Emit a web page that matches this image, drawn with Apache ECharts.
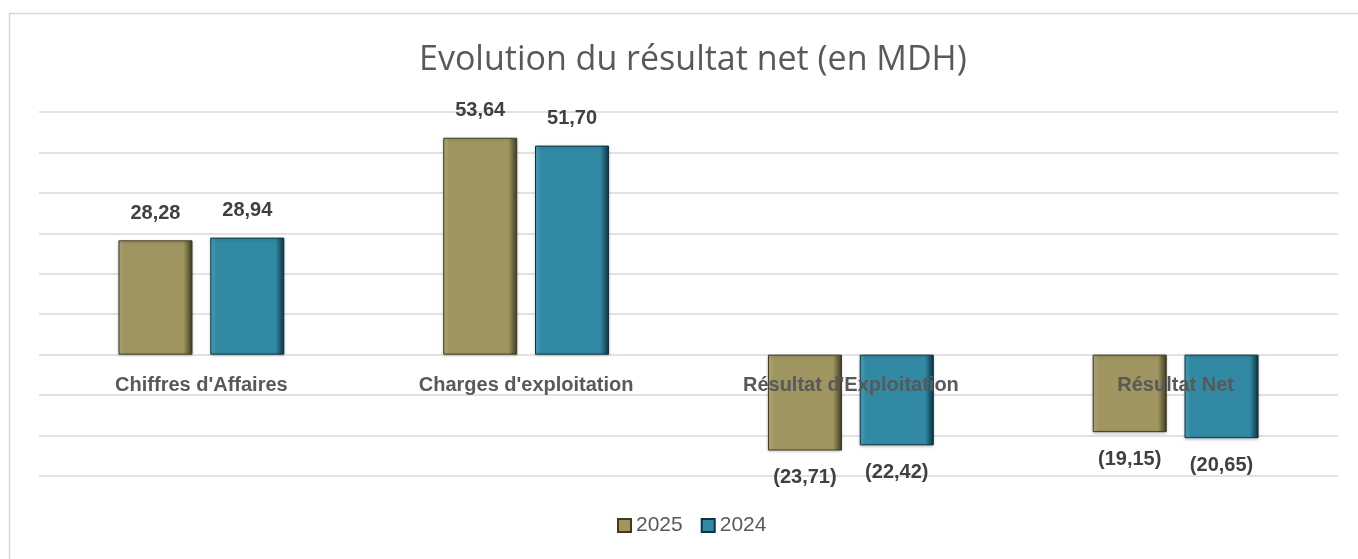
<!DOCTYPE html>
<html>
<head>
<meta charset="utf-8">
<script src="https://cdn.jsdelivr.net/npm/echarts@6/dist/echarts.min.js"></script>
<style>
  html, body { margin: 0; padding: 0; background: #fff; }
  #chart { width: 1358px; height: 559px; }
</style>
</head>
<body>
<div id="chart"></div>
<script>
// données
const categories = ['Chiffres d\'Affaires', 'Charges d\'exploitation', 'Résultat d\'Exploitation', 'Résultat Net'];
const values2025 = [28.28, 53.64, -23.71, -19.15];
const values2024 = [28.94, 51.70, -22.42, -20.65];
const seriesNames = ['2025', '2024'];

// format 28,28 / (23,71)
function fmt(v) {
    const s = Math.abs(v).toFixed(2).replace('.', ',');
    return v < 0 ? '(' + s + ')' : s;
}

function bevel(main, light, dark) {
    return new echarts.graphic.LinearGradient(0, 0, 1, 0, [
        { offset: 0, color: light },
        { offset: 0.08, color: main },
        { offset: 0.88, color: main },
        { offset: 1, color: dark }
    ]);
}

function makeSeries(name, data, main, light, dark) {
    return {
        name: name,
        type: 'bar',
        data: data,
        barWidth: '22.8%',
        barGap: '24%',
        itemStyle: {
            color: bevel(main, light, dark),
            borderColor: dark,
            borderWidth: 1,
            shadowColor: 'rgba(0,0,0,0.25)',
            shadowBlur: 3,
            shadowOffsetY: 1
        },
        label: {
            show: true,
            position: 'outside',
            distance: 17,
            formatter: p => fmt(p.value),
            color: '#404040',
            fontSize: 20,
            fontWeight: 'bold',
            fontFamily: 'Liberation Sans'
        }
    };
}

const chart = echarts.init(document.getElementById('chart'));
const option = {
    animation: false,
    textStyle: { fontFamily: 'Liberation Sans' },
    graphic: [{
        type: 'rect',
        shape: { x: 9.5, y: 13.5, width: 1400, height: 600 },
        style: { fill: 'none', stroke: '#d9d9d9', lineWidth: 1.5 },
        silent: true
    }],
    title: {
        text: 'Evolution du résultat net (en MDH)',
        left: 414,
        top: 38,
        textStyle: { color: '#595959', fontSize: 34, fontWeight: 'normal', fontFamily: 'Open Sans' }
    },
    legend: {
        data: seriesNames,
        bottom: 18,
        left: 612,
        icon: 'rect',
        itemWidth: 13,
        itemHeight: 13,
        itemGap: 18,
        textStyle: { color: '#595959', fontSize: 21, fontFamily: 'Liberation Sans' }
    },
    grid: { left: 39, right: 20, top: 112, bottom: 83 },
    xAxis: {
        type: 'category',
        data: categories,
        z: 10,
        axisLine: { show: false },
        axisTick: { show: false },
        axisLabel: {
            color: '#595959',
            fontSize: 20,
            fontWeight: 'bold',
            margin: -101,
            fontFamily: 'Liberation Sans'
        }
    },
    yAxis: {
        type: 'value',
        min: -30,
        max: 60,
        interval: 10,
        axisLabel: { show: false },
        axisLine: { show: false },
        axisTick: { show: false },
        splitLine: { lineStyle: { color: '#d9d9d9', width: 1.5 } }
    },
    series: [
        makeSeries(seriesNames[0], values2025, '#9E9560', '#B3AB78', '#3F3B20'),
        makeSeries(seriesNames[1], values2024, '#3289A3', '#4DA3BD', '#0C3440')
    ]
};
chart.setOption(option);
</script>
</body>
</html>
